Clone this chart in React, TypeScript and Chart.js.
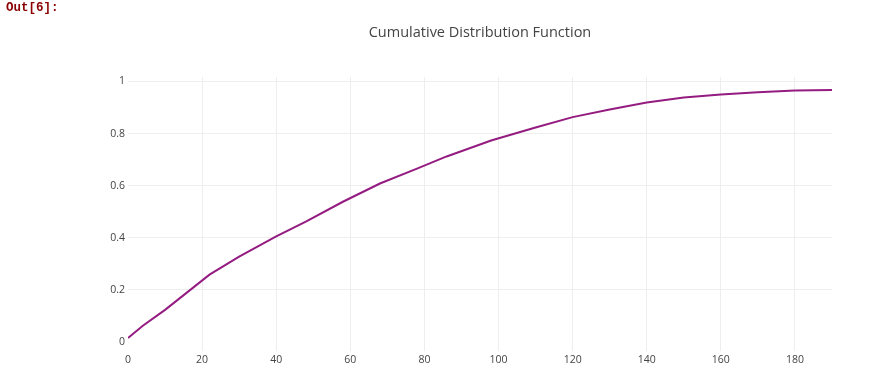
import React, { useEffect, useRef } from "react";
import { Chart, registerables } from "chart.js";

Chart.register(...registerables);

const chartTitle = "Cumulative Distribution Function";
const promptText = "Out[6]:";

const xValues = [0, 4, 10, 22, 30, 40, 48, 58, 68, 78, 86, 98, 110, 120, 130, 140, 150, 160, 170, 180, 190];
const cdfValues = [0.015, 0.062, 0.123, 0.258, 0.327, 0.405, 0.462, 0.538, 0.608, 0.665, 0.712, 0.773, 0.823, 0.863, 0.892, 0.919, 0.938, 0.95, 0.958, 0.965, 0.967];

const xTickValues = [0, 20, 40, 60, 80, 100, 120, 140, 160, 180];
const yTickValues = [0, 0.2, 0.4, 0.6, 0.8, 1];

const lineColor = "#941c80";
const gridColor = "#eeeeee";
const textColor = "#444444";

export default function App() {
  const canvasRef = useRef<HTMLCanvasElement | null>(null);

  useEffect(() => {
    const canvas = canvasRef.current;
    if (!canvas) return;
    const chart = new Chart(canvas, {
      type: "line",
      data: {
        datasets: [
          {
            label: "CDF",
            data: xValues.map((x, i) => ({ x, y: cdfValues[i] })),
            borderColor: lineColor,
            backgroundColor: lineColor,
            borderWidth: 2,
            pointRadius: 0,
            tension: 0,
            fill: false,
          },
        ],
      },
      options: {
        responsive: false,
        animation: false,
        devicePixelRatio: 1,
        layout: { padding: { left: 0, right: 56, top: 0, bottom: 0 } },
        plugins: {
          legend: { display: false },
          tooltip: { enabled: false },
          title: {
            display: true,
            text: chartTitle,
            fullSize: false,
            color: textColor,
            font: { family: "'Open Sans', sans-serif", size: 14.5, weight: "normal", lineHeight: 1.2 },
            padding: { top: 24.3, bottom: 35.3 },
          },
        },
        scales: {
          x: {
            type: "linear",
            min: 0,
            max: 190,
            afterBuildTicks: (scale: any) => {
              scale.ticks = xTickValues.map((v) => ({ value: v }));
            },
            afterFit: (scale: any) => {
              scale.height = 29;
            },
            ticks: {
              color: textColor,
              font: { family: "'Open Sans', sans-serif", size: 10.5 },
              padding: 3,
              maxRotation: 0,
              autoSkip: false,
              callback: (v: any) => String(v),
            },
            grid: {
              color: (ctx: any) => (ctx.tick && ctx.tick.value === 0 ? "rgba(0,0,0,0)" : gridColor),
              lineWidth: 1,
              drawTicks: false,
            },
            border: { display: false },
          },
          y: {
            type: "linear",
            min: -0.035,
            max: 1.017,
            afterBuildTicks: (scale: any) => {
              scale.ticks = yTickValues.map((v) => ({ value: v }));
            },
            afterFit: (scale: any) => {
              scale.width = 128;
            },
            ticks: {
              color: textColor,
              font: { family: "'Open Sans', sans-serif", size: 10.5 },
              padding: 3,
              autoSkip: false,
              callback: (v: any) => String(v),
            },
            grid: {
              color: (ctx: any) => (ctx.tick && ctx.tick.value === 0 ? "rgba(0,0,0,0)" : gridColor),
              lineWidth: 1,
              drawTicks: false,
            },
            border: { display: false },
          },
        },
      },
    });
    return () => chart.destroy();
  }, []);

  return (
    <div style={{ position: "absolute", left: 0, top: 0, width: 888, height: 380, background: "#fff" }}>
      <span
        style={{
          position: "absolute",
          left: 6,
          top: 1,
          fontFamily: "'Liberation Mono', monospace",
          fontWeight: "bold",
          fontSize: 12.5,
          lineHeight: "14px",
          color: "#8b0000",
        }}
      >
        {promptText}
      </span>
      <canvas ref={canvasRef} width={888} height={380} style={{ display: "block", width: 888, height: 380 }} />
    </div>
  );
}
